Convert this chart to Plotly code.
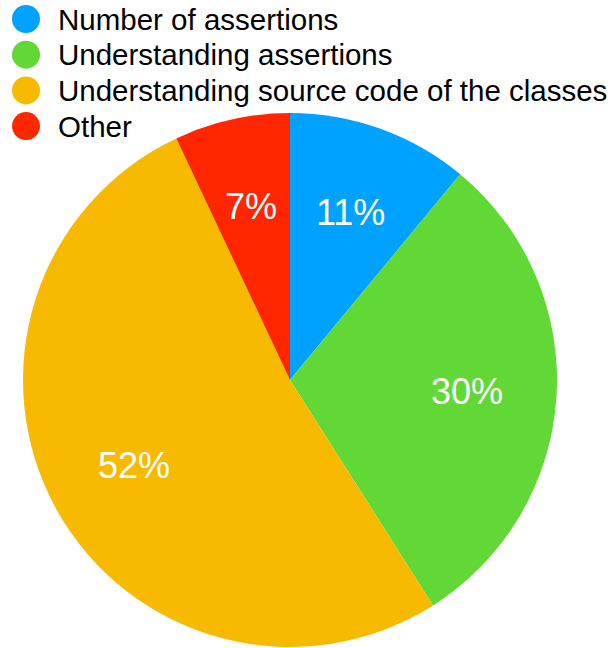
import math
import plotly.graph_objects as go

categories = ["Number of assertions", "Understanding assertions",
              "Understanding source code of the classes", "Other"]
values = [11, 30, 52, 7]
colors = ["#00A2FF", "#61D836", "#F8BA00", "#FF2600"]

W, H = 614, 648
FONT = "Liberation Sans, Arial, sans-serif"
dom_x = [23 / W, 557 / W]
dom_y = [1 / H, 535 / H]

fig = go.Figure()
fig.add_trace(go.Pie(
    labels=categories, values=values, sort=False, direction="clockwise",
    rotation=0, marker=dict(colors=colors, line=dict(width=0)),
    textinfo="none", domain=dict(x=dom_x, y=dom_y),
    showlegend=False, hoverinfo="label+percent",
))

# percentage labels placed at the middle angle of each slice
total = sum(values)
cx = (dom_x[0] + dom_x[1]) / 2
cy = (dom_y[0] + dom_y[1]) / 2
R = (dom_x[1] - dom_x[0]) * W / 2
annots = []
cum = 0
for v in values:
    th = 2 * math.pi * (cum + v / 2) / total
    cum += v
    r = 0.665 * R
    annots.append(dict(text=f"{round(100 * v / total)}%", xref="paper", yref="paper",
                       x=cx + r * math.sin(th) / W, y=cy + r * math.cos(th) / H,
                       xanchor="center", yanchor="middle", showarrow=False,
                       font=dict(family=FONT, size=36, color="white")))

# custom legend with round markers
row_h = 35.7
shapes = []
for i, (lab, col) in enumerate(zip(categories, colors)):
    ly = 19 + i * row_h
    shapes.append(dict(type="circle", xref="paper", yref="paper",
                       x0=12 / W, x1=40 / W, y0=1 - (ly - 14) / H, y1=1 - (ly + 14) / H,
                       fillcolor=col, line=dict(width=0)))
    annots.append(dict(text=lab, xref="paper", yref="paper", x=56 / W, y=1 - ly / H,
                       xanchor="left", yanchor="middle", showarrow=False,
                       font=dict(family=FONT, size=29.5, color="black")))

fig.update_layout(width=W, height=H, margin=dict(l=0, r=0, t=0, b=0),
                  paper_bgcolor="white", plot_bgcolor="white",
                  shapes=shapes, annotations=annots)
fig.write_html("out.html")
